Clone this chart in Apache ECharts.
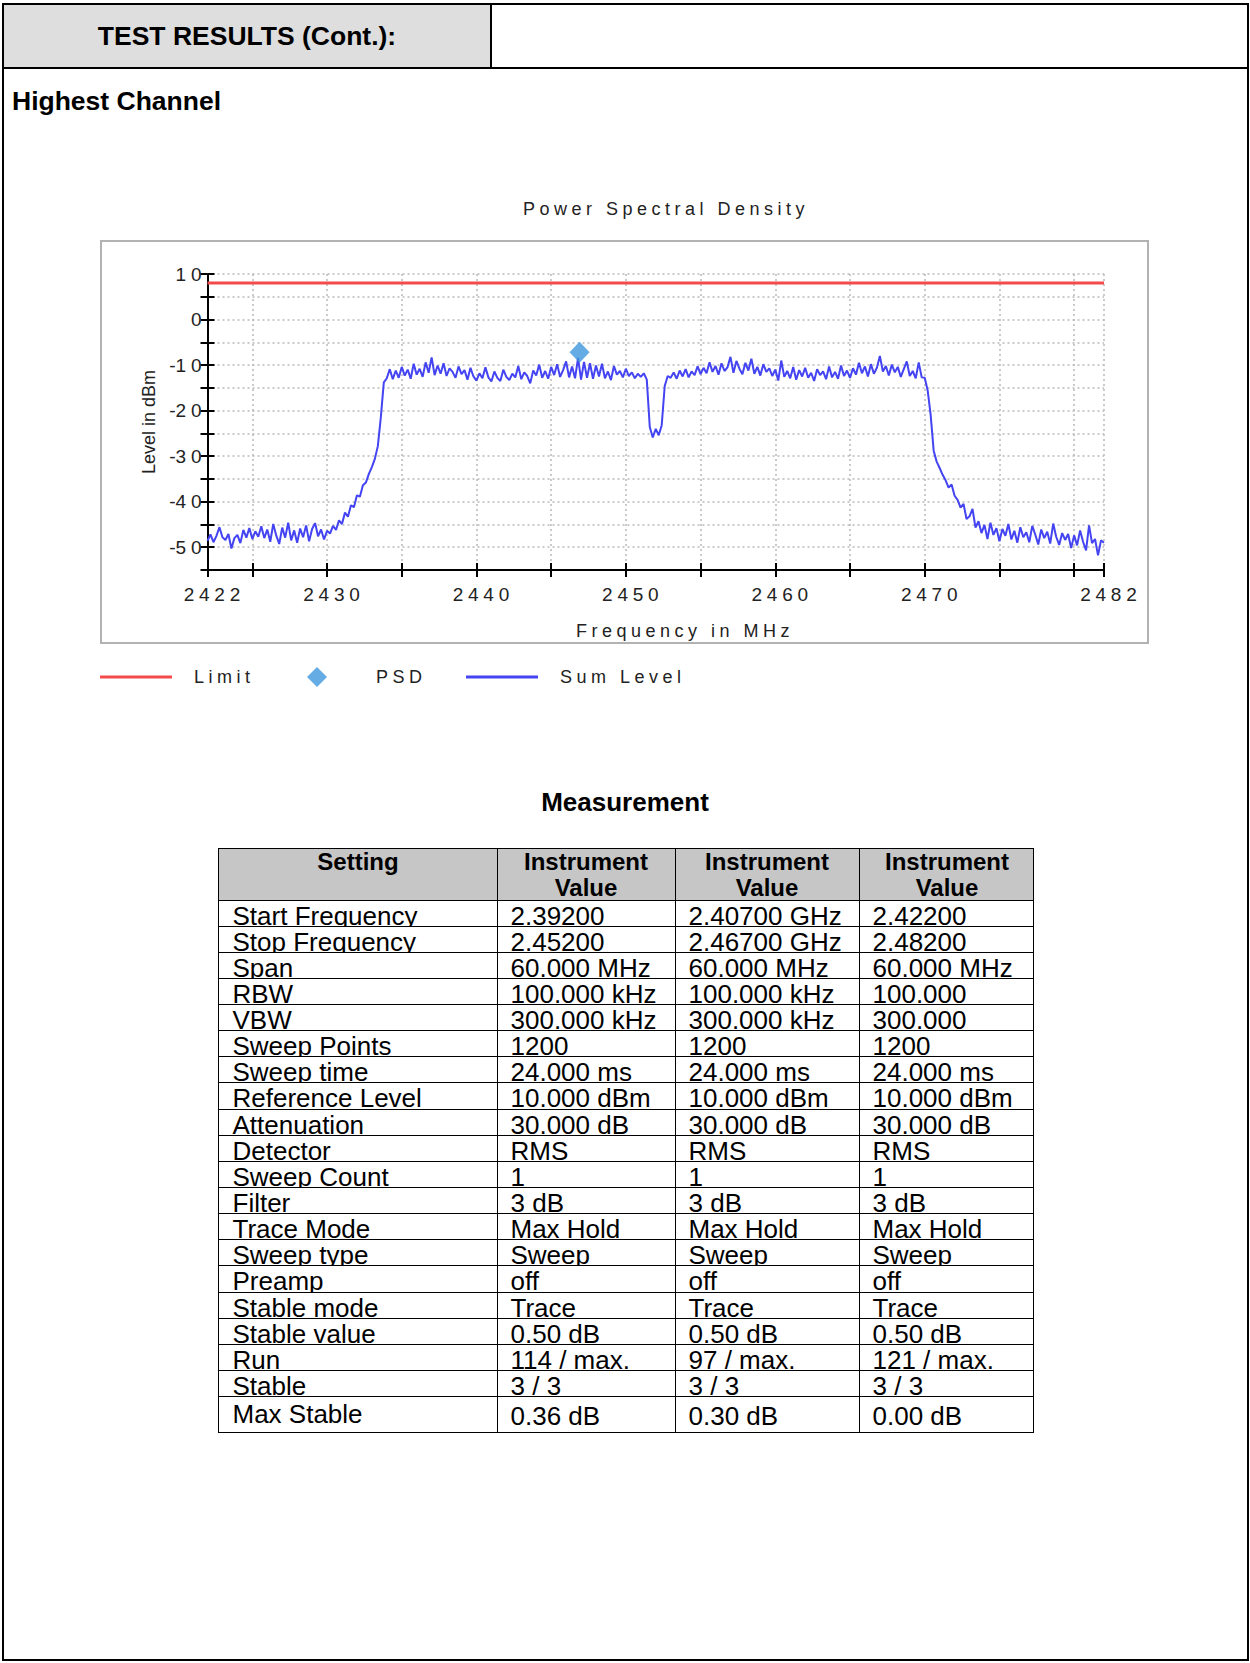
<!DOCTYPE html>
<html>
<head>
<meta charset="utf-8">
<script src="https://cdn.jsdelivr.net/npm/echarts@6/dist/echarts.min.js"></script>
<style>
html,body{margin:0;padding:0;background:#fff;}
body{width:1250px;height:1663px;position:relative;overflow:hidden;font-family:"Liberation Sans",Arial,sans-serif;color:#000;}
#page{position:absolute;left:2px;top:3px;width:1247px;height:1658px;border:2px solid #000;box-sizing:border-box;}
#hdr{position:absolute;left:0;top:0;right:0;height:64px;border-bottom:2px solid #000;box-sizing:border-box;}
#hdrCell{position:absolute;left:0;top:0;width:488px;height:62px;background:#dedede;border-right:2px solid #000;box-sizing:border-box;display:flex;align-items:center;justify-content:center;font-weight:bold;font-size:26.5px;}
#hc{position:absolute;left:12px;top:86px;font-weight:bold;font-size:26.5px;line-height:30px;white-space:nowrap;}
#meas{position:absolute;left:0;width:1250px;top:787px;text-align:center;font-weight:bold;font-size:26px;line-height:30px;}
#frame{position:absolute;left:100px;top:240px;width:1049px;height:404px;border:2px solid #b2b2b2;box-sizing:border-box;}
#chart{position:absolute;left:90px;top:180px;width:1080px;height:520px;}
#tbl{position:absolute;left:218px;top:848px;width:816px;height:585px;border:1px solid #000;box-sizing:border-box;}
.hl{position:absolute;left:0;right:0;height:1px;background:#000;}
.vl{position:absolute;top:0;bottom:0;width:1px;background:#000;}
.cell{position:absolute;overflow:hidden;white-space:normal;font-size:26px;padding-left:13px;box-sizing:border-box;}
.hcell{position:absolute;text-align:center;font-weight:bold;font-size:24px;line-height:26px;}
</style>
</head>
<body>
<div id="page">
  <div id="hdr"><div id="hdrCell">TEST RESULTS (Cont.):</div></div>
</div>
<div id="hc">Highest Channel</div>
<div id="frame"></div>
<div id="chart"></div>
<div id="meas">Measurement</div>
<div id="tbl"></div>
<script>
// ---------------- chart data ----------------
const freqStart = 2422;
const freqStep = 0.2;
const sumLevel = [
  -48.6, -47.2, -48.9, -47.5, -45.6,
  -47.8, -48.4, -47.1, -50.3, -48.0,
  -47.3, -49.1, -46.2, -47.9, -45.8,
  -48.2, -46.5, -47.7, -45.4, -48.0,
  -46.1, -48.8, -44.9, -47.4, -49.3,
  -45.7, -47.9, -44.6, -48.5, -46.3,
  -49.0, -45.9, -47.8, -45.2, -48.7,
  -46.0, -44.7, -47.6, -46.1, -48.3,
  -46.4, -47.0, -45.3, -46.2, -44.1,
  -44.9, -42.4, -43.3, -40.8, -41.2,
  -38.6, -38.9, -36.4, -35.8, -33.9,
  -32.4, -30.6, -27.8, -21.5, -13.8,
  -12.9, -10.9, -13.1, -11.2, -12.8,
  -10.4, -12.3, -11.0, -13.0, -9.7,
  -12.1, -10.8, -12.6, -9.4, -11.7,
  -8.3, -12.2, -10.1, -11.9, -9.6,
  -12.4, -10.7, -11.5, -12.8, -10.3,
  -12.0, -11.1, -13.2, -10.6, -12.5,
  -13.4, -11.8, -12.9, -10.5, -12.7,
  -13.6, -11.4, -12.8, -13.5, -11.0,
  -12.6, -13.3, -11.9, -12.7, -10.2,
  -13.1, -11.6, -12.4, -14.0, -11.2,
  -12.3, -9.9, -12.8, -11.3, -13.0,
  -10.4, -12.2, -9.8, -12.6, -11.1,
  -9.2, -12.7, -10.3, -12.9, -8.4,
  -13.2, -9.3, -12.8, -9.6, -13.0,
  -10.1, -12.5, -9.7, -12.9, -11.4,
  -13.3, -10.2, -12.1, -11.3, -12.7,
  -10.8, -12.4, -11.6, -12.9, -11.9,
  -12.6, -11.8, -13.2, -23.6, -25.9,
  -24.0, -25.4, -23.2, -14.6, -12.4,
  -12.8, -11.6, -13.0, -11.2, -12.5,
  -10.9, -12.7, -11.4, -12.2, -10.3,
  -12.0, -10.6, -11.8, -9.4, -11.5,
  -10.2, -12.1, -9.6, -11.3, -10.5,
  -8.2, -11.7, -9.1, -10.8, -12.0,
  -9.5, -11.2, -8.6, -11.9, -10.4,
  -12.3, -9.8, -11.5, -10.7, -12.4,
  -11.0, -13.4, -9.0, -12.6, -11.3,
  -12.9, -10.4, -13.2, -11.1, -12.5,
  -10.6, -12.8, -11.7, -13.5, -10.9,
  -12.2, -11.4, -13.1, -10.3, -12.7,
  -11.5, -13.0, -10.1, -12.4, -11.2,
  -12.8, -10.7, -12.1, -9.5, -11.8,
  -10.3, -12.5, -9.8, -11.9, -10.6,
  -8.0, -11.4, -10.2, -12.3, -9.9,
  -11.6, -10.4, -12.6, -10.9, -9.2,
  -12.4, -11.3, -12.9, -9.4, -12.7,
  -12.8, -15.6, -21.0, -28.8, -31.2,
  -32.6, -34.1, -35.3, -36.9, -36.2,
  -38.7, -39.6, -41.3, -40.5, -43.8,
  -43.2, -41.6, -45.7, -44.3, -46.9,
  -45.1, -48.2, -44.6, -47.3, -45.8,
  -48.7, -46.0, -47.5, -44.9, -48.3,
  -46.4, -49.0, -45.6, -47.8, -46.7,
  -48.9, -45.3, -47.2, -49.4, -46.1,
  -48.0, -46.6, -49.2, -44.8, -47.7,
  -49.5, -46.9, -48.4, -47.1, -50.2,
  -47.4, -49.6, -46.3, -48.8, -50.7,
  -45.2, -49.1, -48.2, -51.8, -48.5,
  -49.0
];
const limitFreq = [2422, 2482];
const limitLevel = [8, 8];
const psdFreq = [2446.9];
const psdLevel = [-7.2];
const xTickValues = [2422, 2425, 2430, 2435, 2440, 2445, 2450, 2455, 2460, 2465, 2470, 2475, 2480, 2482];
const xLabelValues = [2422, 2430, 2440, 2450, 2460, 2470, 2482];
const yLabelValues = [10, 0, -10, -20, -30, -40, -50];

// ---------------- table data ----------------
const settingNames = ['Start Frequency','Stop Frequency','Span','RBW','VBW','Sweep Points','Sweep time','Reference Level','Attenuation','Detector','Sweep Count','Filter','Trace Mode','Sweep type','Preamp','Stable mode','Stable value','Run','Stable','Max Stable'];
const valuesA = ['2.39200 GHz','2.45200 GHz','60.000 MHz','100.000 kHz','300.000 kHz','1200','24.000 ms','10.000 dBm','30.000 dB','RMS','1','3 dB','Max Hold','Sweep','off','Trace','0.50 dB','114 / max.','3 / 3','0.36 dB'];
const valuesB = ['2.40700 GHz','2.46700 GHz','60.000 MHz','100.000 kHz','300.000 kHz','1200','24.000 ms','10.000 dBm','30.000 dB','RMS','1','3 dB','Max Hold','Sweep','off','Trace','0.50 dB','97 / max.','3 / 3','0.30 dB'];
const valuesC = ['2.42200 GHz','2.48200 GHz','60.000 MHz','100.000 kHz','300.000 kHz','1200','24.000 ms','10.000 dBm','30.000 dB','RMS','1','3 dB','Max Hold','Sweep','off','Trace','0.50 dB','121 / max.','3 / 3','0.00 dB'];
const headers = ['Setting','Instrument<br>Value','Instrument<br>Value','Instrument<br>Value'];

// ---------------- build table ----------------
(function(){
  const t = document.getElementById('tbl');
  const colX = [0, 278, 456, 640, 816];
  const padR = [0, 14, 10, 19];
  const headH = 51;
  const rowH = 26.14;
  const nRows = settingNames.length;
  let html = '<div style="position:absolute;left:0;top:0;width:100%;height:'+headH+'px;background:#c6c6c6"></div>';
  for (let c = 0; c < 4; c++) {
    html += '<div class="hcell" style="left:'+colX[c]+'px;top:0;width:'+(colX[c+1]-colX[c])+'px;">'+headers[c]+'</div>';
  }
  const rowTops = [];
  for (let r = 0; r < nRows; r++) rowTops.push(headH + r*rowH);
  const lastBottom = 584;
  for (let r = 0; r < nRows; r++) {
    html += '<div class="hl" style="top:'+(rowTops[r]-0.5)+'px"></div>';
  }
  for (let c = 1; c < 4; c++) {
    html += '<div class="vl" style="left:'+(colX[c]-0.5)+'px"></div>';
  }
  const cols = [settingNames, valuesA, valuesB, valuesC];
  for (let r = 0; r < nRows; r++) {
    const top = rowTops[r] + 0.5;
    const last = (r === nRows-1);
    const h = last ? (lastBottom - top) : (rowH - 1);
    for (let c = 0; c < 4; c++) {
      const lh = last ? (c === 0 ? 34 : 38.6) : 31;
      html += '<div class="cell" style="left:'+(colX[c]+0.5)+'px;top:'+top+'px;width:'+(colX[c+1]-colX[c]-1)+'px;height:'+h+'px;line-height:'+lh+'px;padding-right:'+padR[c]+'px">'+cols[c][r]+'</div>';
    }
  }
  t.innerHTML = html;
})();

// ---------------- chart ----------------
const sp = s => s.split('').join('\u2005');
const fmtNum = v => v < 0 ? '-' + sp(String(-v)) : sp(String(v));
const sumData = sumLevel.map((v, i) => [+(freqStart + i*freqStep).toFixed(1), v]);
const limitData = limitFreq.map((f, i) => [f, limitLevel[i]]);
const psdData = psdFreq.map((f, i) => [f, psdLevel[i]]);

const txt = '#222';
const font = '"Liberation Sans", Arial, sans-serif';
const gridLine = {show: true, lineStyle: {color: '#b9b9b9', type: [2, 3], width: 1.5}};
const tickStyle = {color: '#000', width: 2};

const chart = echarts.init(document.getElementById('chart'), null, {renderer: 'svg'});
chart.setOption({
  animation: false,
  textStyle: {fontFamily: font},
  title: {
    text: sp('Power Spectral Density'),
    left: 433, top: 20, padding: 0,
    textStyle: {fontSize: 18, fontWeight: 'normal', color: txt, fontFamily: font}
  },
  grid: {left: 117.5, top: 94, width: 896.5, height: 296, containLabel: false},
  xAxis: [{
    type: 'value', min: 2422, max: 2482,
    name: sp('Frequency in MHz'), nameLocation: 'middle', nameGap: 52,
    nameTextStyle: {fontSize: 18, color: txt, padding: [0, 0, 0, 54]},
    axisLine: {show: true, onZero: false, lineStyle: {color: '#000', width: 2}},
    axisTick: {show: true, customValues: xTickValues, length: 7, lineStyle: tickStyle},
    axisLabel: {customValues: xLabelValues, formatter: v => sp(String(v)), fontSize: 19, color: txt, margin: 15, padding: [0, 0, 0, 9]},
    splitLine: gridLine
  }, {
    type: 'value', min: 2422, max: 2482, position: 'bottom',
    axisLine: {show: false, onZero: false},
    axisTick: {show: true, inside: true, customValues: xTickValues, length: 7, lineStyle: tickStyle},
    axisLabel: {show: false},
    splitLine: {show: false}
  }],
  yAxis: [{
    type: 'value', min: -55, max: 10, interval: 5,
    name: 'Level in dBm', nameLocation: 'middle', nameGap: 50,
    nameTextStyle: {fontSize: 18, color: txt},
    axisLine: {show: true, onZero: false, lineStyle: {color: '#000', width: 2}},
    axisTick: {show: true, length: 7, lineStyle: tickStyle},
    axisLabel: {formatter: v => yLabelValues.indexOf(v) >= 0 ? fmtNum(v) : '', fontSize: 19, color: txt, margin: 6},
    splitLine: gridLine
  }, {
    type: 'value', min: -55, max: 10, interval: 5, position: 'left',
    axisLine: {show: false, onZero: false},
    axisTick: {show: true, inside: true, length: 7, lineStyle: tickStyle},
    axisLabel: {show: false},
    splitLine: {show: false}
  }],
  legend: [{
    data: ['Limit'], left: 10, top: 488, padding: 0, itemWidth: 72, itemHeight: 3, icon: 'rect', selectedMode: false,
    formatter: n => sp(n), textStyle: {fontSize: 18, color: txt, padding: [0, 0, 0, 17]}
  }, {
    data: ['PSD'], left: 217, top: 487, padding: 0, itemWidth: 20, itemHeight: 20, icon: 'diamond', selectedMode: false,
    formatter: n => sp(n), textStyle: {fontSize: 18, color: txt, padding: [0, 0, 0, 44]}
  }, {
    data: ['Sum Level'], left: 376, top: 488, padding: 0, itemWidth: 72, itemHeight: 3, icon: 'rect', selectedMode: false,
    formatter: n => sp(n), textStyle: {fontSize: 18, color: txt, padding: [0, 0, 0, 17]}
  }],
  series: [{
    name: 'Limit', type: 'line', data: limitData, symbol: 'none', z: 3,
    lineStyle: {color: '#f44a4a', width: 3}, itemStyle: {color: '#f44a4a'}
  }, {
    name: 'Sum Level', type: 'line', data: sumData, symbol: 'none', z: 4,
    lineStyle: {color: '#4444f2', width: 2}, itemStyle: {color: '#4444f2'}
  }, {
    name: 'PSD', type: 'scatter', data: psdData, symbol: 'diamond', symbolSize: [20, 21], z: 5,
    itemStyle: {color: '#3f97dd'}
  }]
});
</script>
</body>
</html>
